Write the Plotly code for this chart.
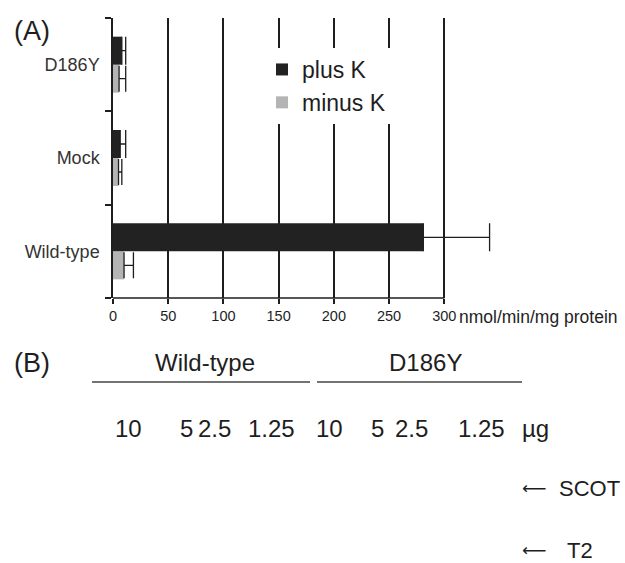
import plotly.graph_objects as go

# ---- data ----
categories = ["Wild-type", "Mock", "D186Y"]          # bottom -> top
plus_k = [281, 6.5, 8]
plus_k_err = [60, 5, 3.5]
minus_k = [10, 5, 5.5]
minus_k_err = [8.5, 3, 6]
x_ticks = [0, 50, 100, 150, 200, 250, 300]
x_unit = "nmol/min/mg protein"

blot_groups = ["Wild-type", "D186Y"]
blot_amounts = ["10", "5", "2.5", "1.25", "10", "5", "2.5", "1.25"]
blot_unit = "µg"
blot_bands = ["SCOT", "T2"]

FONT = "Liberation Sans, Arial, Helvetica, sans-serif"
INK = "#1e1e1e"

# plot-area geometry in pixels
W, H = 625, 563
L, R, T, B = 113, 131, 18, 265
PW, PH = W - L - R, H - T - B


def px(xp):
    return (xp - L) / PW


def py(yp):
    return (H - B - yp) / PH


fig = go.Figure()
fig.add_trace(go.Bar(
    y=categories, x=minus_k, name="minus K", orientation="h",
    marker=dict(color="#b4b4b4", line=dict(width=0)),
    error_x=dict(type="data", array=minus_k_err, arrayminus=[0] * len(minus_k),
                 symmetric=False, color=INK, thickness=1.3, width=13),
    legendrank=2,
))
fig.add_trace(go.Bar(
    y=categories, x=plus_k, name="plus K", orientation="h",
    marker=dict(color="#222222", line=dict(width=0)),
    error_x=dict(type="data", array=plus_k_err, arrayminus=[0] * len(plus_k),
                 symmetric=False, color=INK, thickness=1.3, width=14),
    legendrank=1,
))

fig.update_layout(
    width=W, height=H,
    margin=dict(l=L, r=R, t=T, b=B),
    paper_bgcolor="white", plot_bgcolor="white",
    barmode="group", bargap=0.4, bargroupgap=0,
    font=dict(family=FONT, color=INK),
    showlegend=True,
    legend=dict(x=px(262), y=py(48), xanchor="left", yanchor="top",
                bgcolor="white", borderwidth=0, font=dict(size=23, color=INK),
                traceorder="normal"),
    xaxis=dict(range=[0, 345], tickvals=x_ticks, ticktext=[str(v) for v in x_ticks],
               showgrid=True, gridcolor=INK, gridwidth=1.5, zeroline=False,
               showline=False, ticks="outside", ticklen=5, tickwidth=1.5,
               tickcolor=INK, tickfont=dict(size=14.5, color=INK)),
    yaxis=dict(categoryorder="array", categoryarray=categories,
               showline=True, linecolor=INK, linewidth=1.5,
               ticks="outside", tickson="boundaries", ticklen=6, tickwidth=1.5,
               tickcolor=INK, showgrid=False, zeroline=False,
               tickfont=dict(size=18, color="#333333"), ticklabelstandoff=8),
)

# x axis line only from 0 to 300
fig.add_shape(type="line", xref="x", yref="paper", x0=x_ticks[0], x1=x_ticks[-1],
              y0=0, y1=0, line=dict(color=INK, width=1.5))

ann = []
ann.append(dict(text=x_unit, xref="paper", yref="paper", x=px(457), y=py(317),
                xanchor="left", yanchor="middle", font=dict(size=17.5)))
ann.append(dict(text="(A)", xref="paper", yref="paper", x=px(12), y=py(31),
                xanchor="left", yanchor="middle", font=dict(size=27)))
ann.append(dict(text="(B)", xref="paper", yref="paper", x=px(12), y=py(363),
                xanchor="left", yanchor="middle", font=dict(size=27)))

group_centers = [205, 425]
group_lines = [(92, 310), (317, 522)]
for g, c, (a, b) in zip(blot_groups, group_centers, group_lines):
    ann.append(dict(text=g, xref="paper", yref="paper", x=px(c), y=py(362),
                    xanchor="center", yanchor="middle", font=dict(size=24)))
    fig.add_shape(type="line", xref="paper", yref="paper", x0=px(a), x1=px(b),
                  y0=py(382), y1=py(382), line=dict(color="#444444", width=1.3))

amount_centers = [128, 186, 214, 271, 329, 377, 411, 481]
for t, c in zip(blot_amounts, amount_centers):
    ann.append(dict(text=t, xref="paper", yref="paper", x=px(c), y=py(428),
                    xanchor="center", yanchor="middle", font=dict(size=24)))
ann.append(dict(text=blot_unit, xref="paper", yref="paper", x=px(535), y=py(428),
                xanchor="center", yanchor="middle", font=dict(size=24)))

band_y = [488, 550]
band_text_x = [557, 565]
for t, yy, tx in zip(blot_bands, band_y, band_text_x):
    ann.append(dict(text="⟵", xref="paper", yref="paper", x=px(520), y=py(yy),
                    xanchor="left", yanchor="middle",
                    font=dict(size=17, family="DejaVu Sans")))
    ann.append(dict(text=t, xref="paper", yref="paper", x=px(tx), y=py(yy),
                    xanchor="left", yanchor="middle", font=dict(size=22)))

fig.update_layout(annotations=[dict(showarrow=False, **a) for a in ann])

fig.write_html("out.html",
               config={"displayModeBar": False},
               post_script="document.body.style.margin='0';"
                           "document.body.style.overflow='hidden';")
